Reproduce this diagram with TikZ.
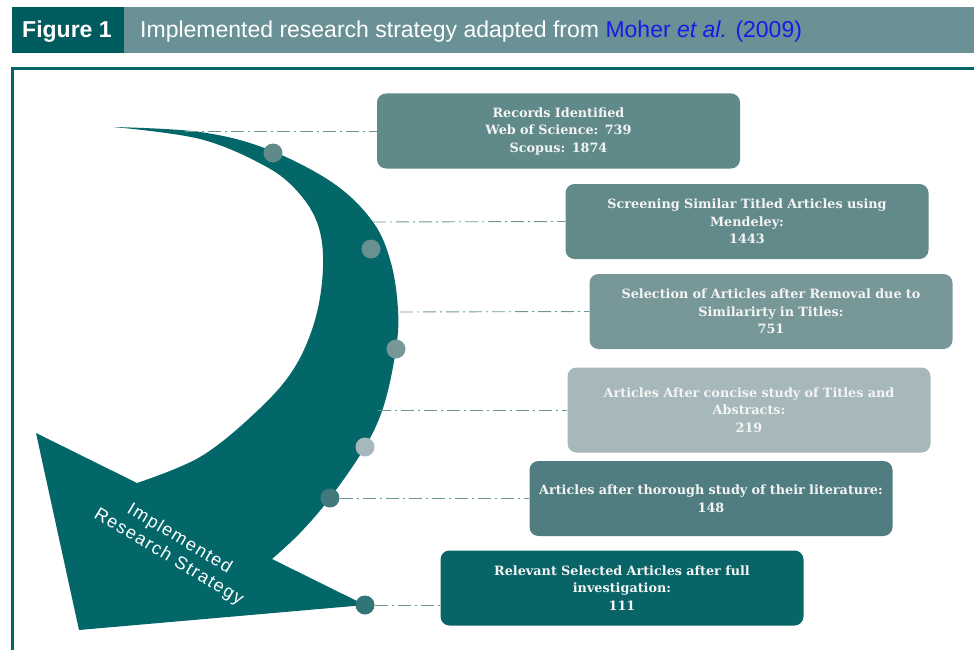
\documentclass[tikz,border=0pt]{standalone}
\usepackage{fontspec}
\setmainfont{Liberation Sans}
\newfontfamily\boxfont{DejaVu Serif}
\newfontfamily\arrowfont[LetterSpace=8]{Liberation Sans}
\usetikzlibrary{shapes}

\definecolor{arrowcol}{HTML}{03676A}
\definecolor{headdark}{HTML}{005B5F}
\definecolor{headlight}{HTML}{6A9196}
\definecolor{linkblue}{HTML}{1A1AE6}
\definecolor{guidecol}{HTML}{6E9597}
\definecolor{boxtext}{HTML}{F4F4F4}
\definecolor{stageA}{HTML}{60898A}
\definecolor{stageB}{HTML}{628A8B}
\definecolor{stageC}{HTML}{789799}
\definecolor{stageD}{HTML}{A6B8BB}
\definecolor{stageE}{HTML}{507E80}
\definecolor{stageF}{HTML}{086466}

\begin{document}
\begin{tikzpicture}[x=1pt,y=-1pt]
        \tikzstyle{stage}=[rectangle,rounded corners=9pt,minimum width=363pt,minimum height=75pt,inner sep=0pt,text width=355pt,align=center,text=boxtext,font=\boxfont\bfseries\fontsize{12.8}{17.5}\selectfont]
        \tikzstyle{stagedot}=[circle,minimum size=19pt,inner sep=0pt]
        \tikzstyle{guide}=[draw=guidecol,line width=0.9pt,dash pattern=on 13pt off 4pt on 2pt off 4pt]
        \useasboundingbox (0,0) rectangle (974,650);
        \fill[headdark] (12,7) rectangle (124,53);
        \fill[headlight] (124,7) rectangle (974,53);
        \node[anchor=base west,inner sep=0pt,text=white,font=\bfseries\fontsize{23}{27}\selectfont] (figno) at (22,38) {Figure 1};
        \node[anchor=base west,inner sep=0pt,text=white,font=\fontsize{23}{27}\selectfont] (caption) at (140,38) {Implemented research strategy adapted from \textcolor{linkblue}{Moher \textit{et al.} (2009)}};
        \draw[arrowcol,line width=3pt] (990,68.5) -- (12.5,68.5) -- (12.5,660);
        \fill[arrowcol] plot[smooth,tension=0.6] coordinates {(113,127) (200,132) (267,149) (333,183) (373,222) (391,263) (398,310) (396,349) (384,405) (365,447) (330,498) (300,533) (272,559)}
          -- (365,605) -- (79,630) -- (36,433) -- (137,483)
          -- plot[smooth,tension=0.6] coordinates {(137,483) (200,457) (255,413) (293,370) (315,320) (323,267) (318,225) (298,192) (265,166) (200,139) (113,127)} -- cycle;
        \node[rotate=-31,text=white,align=center,font=\arrowfont\fontsize{18}{21}\selectfont] (strategy) at (174,548) {Implemented\\Research Strategy};
        \node[stage,fill=stageA] (b1) at (558.5,131) {Records Identified\\Web of Science: 739\\Scopus: 1874};
        \node[stage,fill=stageB] (b2) at (747,221.5) {Screening Similar Titled Articles using\\Mendeley:\\1443};
        \node[stage,fill=stageC] (b3) at (771,311.5) {Selection of Articles after Removal due to\\Similarirty in Titles:\\751};
        \node[stage,fill=stageD,minimum height=85pt] (b4) at (749,410) {Articles After concise study of Titles and\\Abstracts:\\219};
        \node[stage,fill=stageE] (b5) at (711,498.5) {Articles after thorough study of their literature:\\148};
        \node[stage,fill=stageF] (b6) at (622,588) {Relevant Selected Articles after full\\investigation:\\111};
        \node[stagedot,fill=stageA] (d1) at (273,153) {};
        \node[stagedot,fill=stageB!95!white] (d2) at (371,249) {};
        \node[stagedot,fill=stageC] (d3) at (396,349) {};
        \node[stagedot,fill=stageD] (d4) at (365,447) {};
        \node[stagedot,fill=stageE!80!arrowcol] (d5) at (330,498) {};
        \node[stagedot,fill=stageE!60!arrowcol] (d6) at (365,605) {};
        \coordinate (g1) at (185,131);
        \coordinate (g2) at (373,222);
        \coordinate (g3) at (400,312);
        \coordinate (g4) at (378,410);
        \draw[guide] (g1) -- (b1.west);
        \draw[guide] (g2) -- (b2.west);
        \draw[guide] (g3) -- (b3.west);
        \draw[guide] (g4) -- (b4.west);
        \draw[guide] (d5) -- (d5 -| b5.west);
        \draw[guide] (d6) -- (d6 -| b6.west);
\end{tikzpicture}
\end{document}
